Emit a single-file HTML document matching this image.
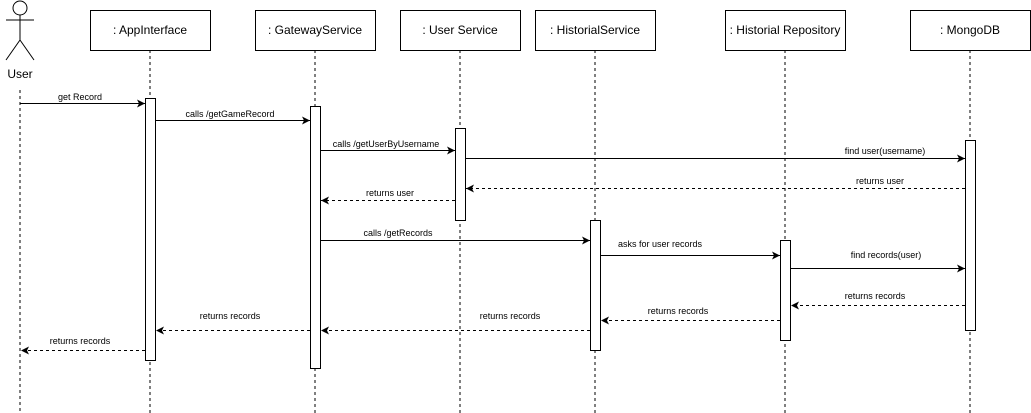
<!DOCTYPE html>
<html><head><style>body{margin:0;background:#fff}svg{display:block}</style></head><body>
<svg width="1031" height="413" xmlns="http://www.w3.org/2000/svg" font-family="Liberation Sans, sans-serif">
<defs><marker id="a" markerWidth="10" markerHeight="8" refX="8" refY="4" orient="auto" markerUnits="userSpaceOnUse"><path d="M0,0 L8,4 L0,8 L2,4 Z" fill="#000"/></marker></defs>
<g stroke="#000" fill="none">
<circle cx="20" cy="8" r="7"/>
<line x1="20" y1="15" x2="20" y2="40"/>
<line x1="6" y1="20" x2="34" y2="20"/>
<line x1="20" y1="40" x2="6" y2="60"/>
<line x1="20" y1="40" x2="34" y2="60"/>
<g stroke-dasharray="3,3">
<line x1="20" y1="90" x2="20" y2="413"/>
<line x1="150" y1="50" x2="150" y2="413"/>
<line x1="315" y1="50" x2="315" y2="413"/>
<line x1="460" y1="50" x2="460" y2="413"/>
<line x1="595" y1="50" x2="595" y2="413"/>
<line x1="785" y1="50" x2="785" y2="413"/>
<line x1="970" y1="50" x2="970" y2="413"/>
</g>
<g fill="#fff">
<rect x="90.5" y="10.5" width="120" height="40"/>
<rect x="255.5" y="10.5" width="120" height="40"/>
<rect x="400.5" y="10.5" width="120" height="40"/>
<rect x="535.5" y="10.5" width="120" height="40"/>
<rect x="725.5" y="10.5" width="120" height="40"/>
<rect x="910.5" y="10.5" width="120" height="40"/>
<rect x="145.5" y="98.5" width="10" height="262"/>
<rect x="310.5" y="106.5" width="10" height="262"/>
<rect x="455.5" y="128.5" width="10" height="92"/>
<rect x="590.5" y="220.5" width="10" height="130"/>
<rect x="780.5" y="240.5" width="10" height="100"/>
<rect x="965.5" y="140.5" width="10" height="190"/>
</g>
<g marker-end="url(#a)">
<line x1="20" y1="103.5" x2="145" y2="103.5"/>
<line x1="155" y1="120.5" x2="310" y2="120.5"/>
<line x1="320" y1="150.5" x2="455" y2="150.5"/>
<line x1="465" y1="158.5" x2="965" y2="158.5"/>
<line x1="320" y1="240.5" x2="590" y2="240.5"/>
<line x1="600" y1="255.5" x2="780" y2="255.5"/>
<line x1="790" y1="268.5" x2="965" y2="268.5"/>
<g stroke-dasharray="3,3">
<line x1="965" y1="188.5" x2="466" y2="188.5"/>
<line x1="455" y1="200.5" x2="321" y2="200.5"/>
<line x1="965" y1="305.5" x2="791" y2="305.5"/>
<line x1="780" y1="320.5" x2="601" y2="320.5"/>
<line x1="590" y1="330.5" x2="321" y2="330.5"/>
<line x1="310" y1="330.5" x2="156" y2="330.5"/>
<line x1="145" y1="350.5" x2="21" y2="350.5"/>
</g>
</g>
</g>
<g font-size="12" text-anchor="middle" fill="#000">
<text x="20" y="78">User</text>
<text x="150" y="34">: AppInterface</text>
<text x="315" y="34">: GatewayService</text>
<text x="460" y="34">: User Service</text>
<text x="595" y="34">: HistorialService</text>
<text x="785" y="34">: Historial Repository</text>
<text x="970" y="34">: MongoDB</text>
</g>
<g font-size="9" text-anchor="middle" fill="#000">
<text x="80" y="100">get Record</text>
<text x="230" y="117">calls /getGameRecord</text>
<text x="386" y="147">calls /getUserByUsername</text>
<text x="885" y="154">find user(username)</text>
<text x="880" y="184">returns user</text>
<text x="390" y="196">returns user</text>
<text x="398" y="236">calls /getRecords</text>
<text x="660" y="247">asks for user records</text>
<text x="886" y="258">find records(user)</text>
<text x="875" y="299">returns records</text>
<text x="678" y="314">returns records</text>
<text x="510" y="319">returns records</text>
<text x="230" y="319">returns records</text>
<text x="80" y="344">returns records</text>
</g>
</svg>
</body></html>
